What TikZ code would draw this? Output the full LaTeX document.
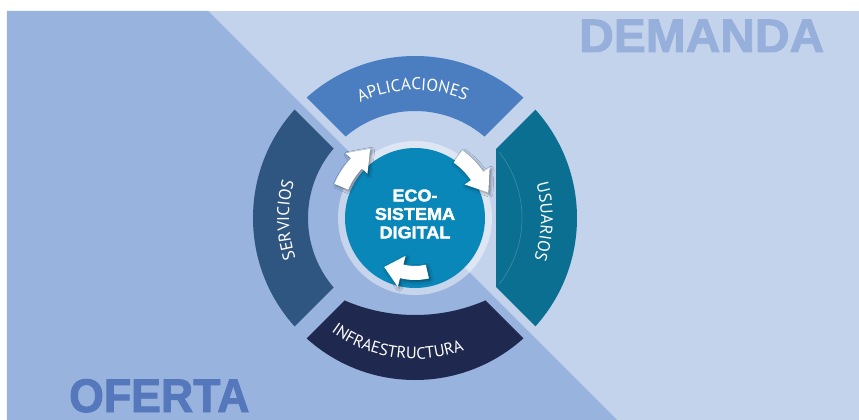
\documentclass[tikz,border=0pt]{standalone}
\usepackage{fontspec}
\setmainfont{Liberation Sans}
\newfontfamily\ringfont{PT Sans}
\newfontfamily\heavyfont{Liberation Sans}[FakeBold=2]
\usetikzlibrary{decorations.text,shadows.blur,calc}

\definecolor{bgdark}{HTML}{98B3DD}
\definecolor{bglight}{HTML}{C3D3EC}
\definecolor{aplic}{HTML}{4A7EC0}
\definecolor{usu}{HTML}{0B6F92}
\definecolor{infra}{HTML}{1F284F}
\definecolor{serv}{HTML}{2F5581}
\definecolor{core}{HTML}{0A87B9}
\definecolor{demcol}{HTML}{97B0DB}
\definecolor{ofecol}{HTML}{5577BC}

\tikzset{
  ringlabel/.style 2 args={decorate, decoration={text along path, text align=center,
      text={|\ringfont\fontsize{#2}{20}\selectfont\color{white}|#1}}},
  bigword/.style={inner sep=0pt, font=\heavyfont\bfseries\fontsize{47}{50}\selectfont},
  cyclearrow/.style={fill=white, blur shadow={shadow xshift=1.5pt, shadow yshift=-1.5pt,
      shadow blur radius=3pt, shadow opacity=45}}
}

% clockwise curved arrow: radius, tail angle, head-base angle, head length,
% half body width, half head width
\newcommand\cwarrow[6]{%
  \path[cyclearrow] (#2:#1+#5) arc[start angle=#2, end angle=#3, radius=#1+#5]
    -- (#3:#1+#6) -- ($(#3:#1)+(#3-90:#4)$) -- (#3:#1-#6) -- (#3:#1-#5)
    arc[start angle=#3, end angle=#2, radius=#1-#5] -- cycle;}

\begin{document}
\begin{tikzpicture}[x=1pt,y=1pt]
\useasboundingbox (-415,-202) rectangle (444,218);

% two halves of the backdrop
\fill[bglight] (-408,-202) rectangle (444,207);
\fill[bgdark] (-408,207) -- (-207,207) -- (202,-202) -- (-408,-202) -- cycle;

% ring segments
\begin{scope}
  \clip (0,12) -- (240,252) -- (-240,252) -- cycle;
  \fill[aplic, even odd rule] (0,0) circle[radius=162] circle[radius=107];
\end{scope}
\begin{scope}
  \clip (-12,0) -- (-252,240) -- (-252,-240) -- cycle;
  \fill[serv, even odd rule] (0,0) circle[radius=162] circle[radius=107];
\end{scope}
\begin{scope}
  \clip (12,0) -- (252,240) -- (252,-240) -- cycle;
  \clip (81,-200) rectangle (200,200);
  \fill[usu] (0,0) circle[radius=162];
  \draw[white, opacity=.18, line width=.7pt] (38:107) arc[start angle=38, end angle=-38, radius=107];
\end{scope}
\begin{scope}
  \clip (0,-12) -- (240,-252) -- (-240,-252) -- cycle;
  \fill[infra, even odd rule] (0,0) circle[radius=162] (0,80) circle[radius=177];
\end{scope}

% curved labels on the ring
\path[ringlabel={APLICACIONES}{17}] (129:128) arc[start angle=129, end angle=53, radius=128];
\path[ringlabel={USUARIOS}{17}] (36.5:126) arc[start angle=36.5, end angle=-39.5, radius=126];
\path[ringlabel={SERVICIOS}{17}] (219:126) arc[start angle=219, end angle=143, radius=126];
\path[ringlabel={INFRAESTRUCTURA}{16.5}] (212:141) arc[start angle=212, end angle=312, radius=141];

% core disc with its halo
\fill[white, opacity=.45] (0,0) circle[radius=77];
\fill[core] (0,0) circle[radius=70];
\node[text=white, align=center, inner sep=0pt,
      font=\heavyfont\bfseries\fontsize{17}{18.5}\selectfont, xscale=1.06] (core) at (0,4)
  {ECO-\\SISTEMA\\DIGITAL};

% cycle arrows
\cwarrow{80}{157}{137}{20}{7.5}{15}
\cwarrow{75}{55}{34}{20}{7.5}{15}
\cwarrow{55}{283}{256}{18}{7}{16}

% side words
\node[bigword, text=demcol, anchor=base west, xscale=1.02] (demanda) at (164,166) {DEMANDA};
\node[bigword, text=ofecol, anchor=base west, xscale=.95] (oferta) at (-346,-194) {OFERTA};
\end{tikzpicture}
\end{document}
